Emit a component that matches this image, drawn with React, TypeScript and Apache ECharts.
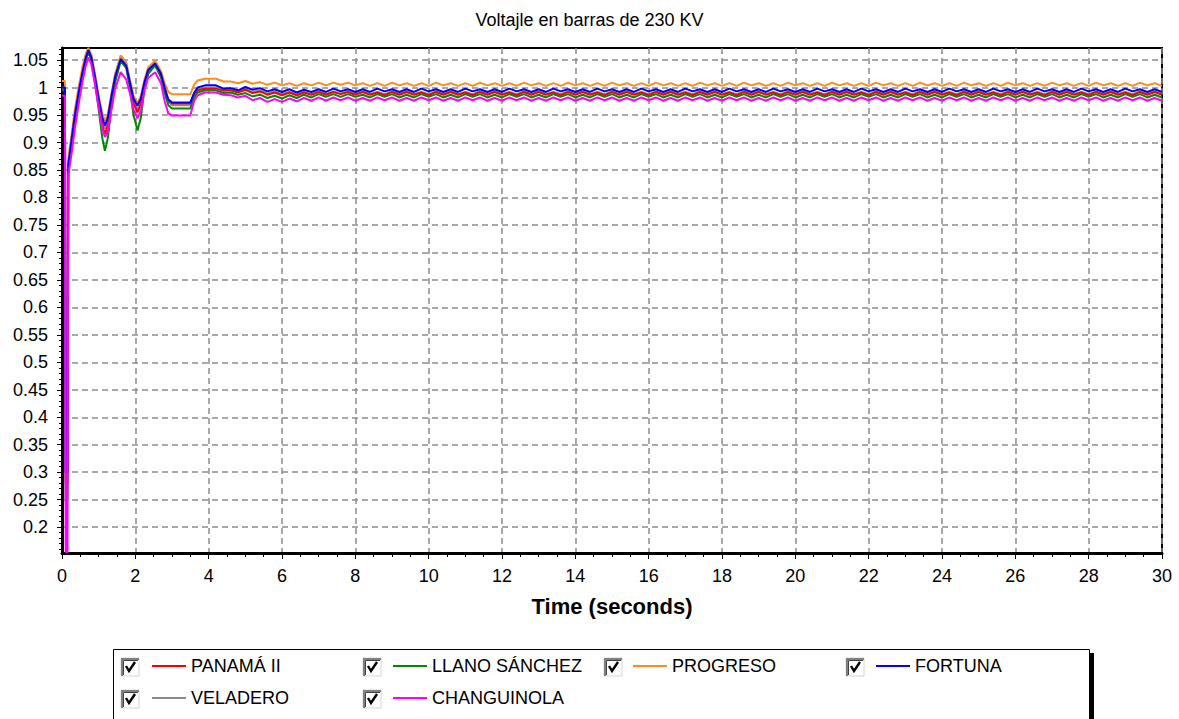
import { useEffect, useRef } from 'react';
import * as echarts from 'echarts';

const TITLE = 'Voltajle en barras de 230 KV';
const X_NAME = 'Time (seconds)';
const SERIES_NAMES = ['PANAMÁ II', 'LLANO SÁNCHEZ', 'PROGRESO', 'FORTUNA', 'VELADERO', 'CHANGUINOLA'];
const SERIES_COLORS = ['#ff0000', '#008a00', '#ff8c1a', '#0000ff', '#8c8c8c', '#ff00ff'];
const Y_TICKS = [0.2, 0.25, 0.3, 0.35, 0.4, 0.45, 0.5, 0.55, 0.6, 0.65, 0.7, 0.75, 0.8, 0.85, 0.9, 0.95, 1, 1.05];
const X_TICKS = [0, 2, 4, 6, 8, 10, 12, 14, 16, 18, 20, 22, 24, 26, 28, 30];
const X_MIN = 0;
const X_MAX = 30;
const Y_MIN = 0.153;
const Y_MAX = 1.072;

const TIME = [
  0, 0.08, 0.1, 0.15, 0.17, 0.25, 0.35, 0.45, 0.55, 0.65, 0.72, 0.8, 0.9, 1.0, 1.1, 1.17, 1.25, 1.35, 1.45,
  1.6, 1.75, 1.85, 1.95, 2.06, 2.15, 2.25, 2.35, 2.54, 2.7, 2.8, 2.9, 3.0, 3.5, 3.6, 3.7, 3.9, 4.2, 4.4,
  4.6, 4.8, 5, 5.2, 5.4, 5.6, 5.8, 6, 6.2, 6.4, 6.6, 6.8, 7, 7.2, 7.4, 7.6,
  7.8, 8, 8.2, 8.4, 8.6, 8.8, 9, 9.2, 9.4, 9.6, 9.8, 10, 10.2, 10.4, 10.6, 10.8,
  11, 11.2, 11.4, 11.6, 11.8, 12, 12.2, 12.4, 12.6, 12.8, 13, 13.2, 13.4, 13.6, 13.8, 14,
  14.2, 14.4, 14.6, 14.8, 15, 15.2, 15.4, 15.6, 15.8, 16, 16.2, 16.4, 16.6, 16.8, 17, 17.2,
  17.4, 17.6, 17.8, 18, 18.2, 18.4, 18.6, 18.8, 19, 19.2, 19.4, 19.6, 19.8, 20, 20.2, 20.4,
  20.6, 20.8, 21, 21.2, 21.4, 21.6, 21.8, 22, 22.2, 22.4, 22.6, 22.8, 23, 23.2, 23.4, 23.6,
  23.8, 24, 24.2, 24.4, 24.6, 24.8, 25, 25.2, 25.4, 25.6, 25.8, 26, 26.2, 26.4, 26.6, 26.8,
  27, 27.2, 27.4, 27.6, 27.8, 28, 28.2, 28.4, 28.6, 28.8, 29, 29.2, 29.4, 29.6, 29.8, 30,
];

const PANAMA = [
  0.998, 0.998, 0.28, 0.28, 0.855, 0.895, 0.945, 0.985, 1.022, 1.053, 1.066, 1.053, 1.015, 0.972, 0.932, 0.915, 0.932, 0.978, 1.016,
  1.05, 1.04, 1.006, 0.972, 0.955, 0.97, 1.004, 1.028, 1.042, 1.022, 0.996, 0.976, 0.971, 0.971, 0.986, 0.995, 0.998, 0.998, 0.994,
  0.995, 0.991, 0.996, 0.99, 0.993, 0.987, 0.991, 0.986, 0.991, 0.986, 0.991, 0.987, 0.992, 0.987, 0.992, 0.988,
  0.992, 0.987, 0.992, 0.987, 0.991, 0.986, 0.992, 0.987, 0.992, 0.987, 0.991, 0.986, 0.992, 0.987, 0.992, 0.987,
  0.991, 0.986, 0.992, 0.987, 0.992, 0.987, 0.991, 0.986, 0.992, 0.987, 0.992, 0.987, 0.991, 0.986, 0.992, 0.987,
  0.992, 0.987, 0.991, 0.986, 0.992, 0.987, 0.992, 0.987, 0.991, 0.986, 0.992, 0.987, 0.992, 0.987, 0.991, 0.986,
  0.992, 0.987, 0.992, 0.987, 0.991, 0.986, 0.992, 0.987, 0.992, 0.987, 0.991, 0.986, 0.992, 0.987, 0.992, 0.987,
  0.991, 0.986, 0.992, 0.987, 0.992, 0.987, 0.991, 0.986, 0.992, 0.987, 0.992, 0.987, 0.991, 0.986, 0.992, 0.987,
  0.992, 0.987, 0.991, 0.986, 0.992, 0.987, 0.992, 0.987, 0.991, 0.986, 0.992, 0.987, 0.992, 0.987, 0.991, 0.986,
  0.992, 0.987, 0.992, 0.987, 0.991, 0.986, 0.992, 0.987, 0.992, 0.987, 0.991, 0.986, 0.992, 0.987, 0.992, 0.987,
];

const LLANO_SANCHEZ = [
  0.995, 0.995, 0.25, 0.25, 0.845, 0.885, 0.935, 0.978, 1.018, 1.05, 1.065, 1.05, 1.01, 0.96, 0.908, 0.885, 0.908, 0.965, 1.01,
  1.048, 1.036, 1.0, 0.95, 0.922, 0.945, 0.998, 1.025, 1.04, 1.018, 0.99, 0.968, 0.962, 0.962, 0.982, 0.991, 0.995, 0.995, 0.99,
  0.991, 0.987, 0.99, 0.984, 0.987, 0.981, 0.985, 0.98, 0.986, 0.981, 0.987, 0.982, 0.988, 0.983, 0.988, 0.983,
  0.988, 0.983, 0.987, 0.982, 0.988, 0.983, 0.988, 0.982, 0.987, 0.982, 0.988, 0.983, 0.988, 0.982, 0.987, 0.982,
  0.988, 0.983, 0.988, 0.982, 0.987, 0.982, 0.988, 0.983, 0.988, 0.982, 0.987, 0.982, 0.988, 0.983, 0.988, 0.982,
  0.987, 0.982, 0.988, 0.983, 0.988, 0.982, 0.987, 0.982, 0.988, 0.983, 0.988, 0.982, 0.987, 0.982, 0.988, 0.983,
  0.988, 0.982, 0.987, 0.982, 0.988, 0.983, 0.988, 0.982, 0.987, 0.982, 0.988, 0.983, 0.988, 0.982, 0.987, 0.982,
  0.988, 0.983, 0.988, 0.982, 0.987, 0.982, 0.988, 0.983, 0.988, 0.982, 0.987, 0.982, 0.988, 0.983, 0.988, 0.982,
  0.987, 0.982, 0.988, 0.983, 0.988, 0.982, 0.987, 0.982, 0.988, 0.983, 0.988, 0.982, 0.987, 0.982, 0.988, 0.983,
  0.988, 0.982, 0.987, 0.982, 0.988, 0.983, 0.988, 0.982, 0.987, 0.982, 0.988, 0.983, 0.988, 0.982, 0.987, 0.982,
];

const PROGRESO = [
  1.012, 1.012, 0.35, 0.35, 0.87, 0.91, 0.96, 1.0, 1.035, 1.062, 1.072, 1.06, 1.025, 0.985, 0.952, 0.94, 0.952, 0.99, 1.025,
  1.058, 1.046, 1.015, 0.985, 0.971, 0.985, 1.015, 1.037, 1.049, 1.03, 1.008, 0.992, 0.988, 0.988, 1.005, 1.013, 1.016, 1.016, 1.011,
  1.011, 1.008, 1.012, 1.007, 1.01, 1.005, 1.009, 1.004, 1.008, 1.003, 1.008, 1.004, 1.009, 1.004, 1.009, 1.005,
  1.009, 1.004, 1.008, 1.003, 1.008, 1.003, 1.009, 1.004, 1.008, 1.003, 1.008, 1.003, 1.009, 1.004, 1.008, 1.003,
  1.008, 1.003, 1.009, 1.004, 1.008, 1.003, 1.008, 1.003, 1.009, 1.004, 1.008, 1.003, 1.008, 1.003, 1.009, 1.004,
  1.008, 1.003, 1.008, 1.003, 1.009, 1.004, 1.008, 1.003, 1.008, 1.003, 1.009, 1.004, 1.008, 1.003, 1.008, 1.003,
  1.009, 1.004, 1.008, 1.003, 1.008, 1.003, 1.009, 1.004, 1.008, 1.003, 1.008, 1.003, 1.009, 1.004, 1.008, 1.003,
  1.008, 1.003, 1.009, 1.004, 1.008, 1.003, 1.008, 1.003, 1.009, 1.004, 1.008, 1.003, 1.008, 1.003, 1.009, 1.004,
  1.008, 1.003, 1.008, 1.003, 1.009, 1.004, 1.008, 1.003, 1.008, 1.003, 1.009, 1.004, 1.008, 1.003, 1.008, 1.003,
  1.009, 1.004, 1.008, 1.003, 1.008, 1.003, 1.009, 1.004, 1.008, 1.003, 1.008, 1.003, 1.009, 1.004, 1.008, 1.003,
];

const FORTUNA = [
  1.0, 1.0, 0.3, 0.3, 0.86, 0.9, 0.95, 0.99, 1.025, 1.055, 1.068, 1.055, 1.02, 0.98, 0.945, 0.931, 0.945, 0.985, 1.02,
  1.052, 1.04, 1.01, 0.98, 0.967, 0.98, 1.01, 1.032, 1.044, 1.025, 1.0, 0.978, 0.973, 0.973, 0.99, 1.0, 1.004, 1.004, 0.998,
  0.999, 0.995, 1.001, 0.996, 0.999, 0.993, 0.997, 0.992, 0.997, 0.991, 0.996, 0.992, 0.997, 0.992, 0.998, 0.993,
  0.997, 0.992, 0.997, 0.992, 0.998, 0.993, 0.997, 0.992, 0.997, 0.992, 0.998, 0.993, 0.997, 0.992, 0.997, 0.992,
  0.998, 0.993, 0.997, 0.992, 0.997, 0.992, 0.998, 0.993, 0.997, 0.992, 0.997, 0.992, 0.998, 0.993, 0.997, 0.992,
  0.997, 0.992, 0.998, 0.993, 0.997, 0.992, 0.997, 0.992, 0.998, 0.993, 0.997, 0.992, 0.997, 0.992, 0.998, 0.993,
  0.997, 0.992, 0.997, 0.992, 0.998, 0.993, 0.997, 0.992, 0.997, 0.992, 0.998, 0.993, 0.997, 0.992, 0.997, 0.992,
  0.998, 0.993, 0.997, 0.992, 0.997, 0.992, 0.998, 0.993, 0.997, 0.992, 0.997, 0.992, 0.998, 0.993, 0.997, 0.992,
  0.997, 0.992, 0.998, 0.993, 0.997, 0.992, 0.997, 0.992, 0.998, 0.993, 0.997, 0.992, 0.997, 0.992, 0.998, 0.993,
  0.997, 0.992, 0.997, 0.992, 0.998, 0.993, 0.997, 0.992, 0.997, 0.992, 0.998, 0.993, 0.997, 0.992, 0.997, 0.992,
];

const VELADERO = [
  1.0, 1.0, 0.3, 0.3, 0.86, 0.9, 0.95, 0.99, 1.027, 1.058, 1.07, 1.058, 1.02, 0.978, 0.94, 0.925, 0.94, 0.983, 1.022,
  1.058, 1.045, 1.01, 0.976, 0.96, 0.975, 1.008, 1.032, 1.046, 1.025, 0.998, 0.974, 0.968, 0.968, 0.988, 0.997, 1.0, 1.0, 0.996,
  0.996, 0.992, 0.997, 0.991, 0.995, 0.989, 0.993, 0.988, 0.992, 0.987, 0.992, 0.988, 0.993, 0.988, 0.993, 0.989,
  0.993, 0.988, 0.993, 0.988, 0.992, 0.988, 0.993, 0.988, 0.993, 0.988, 0.992, 0.988, 0.993, 0.988, 0.993, 0.988,
  0.992, 0.988, 0.993, 0.988, 0.993, 0.988, 0.992, 0.988, 0.993, 0.988, 0.993, 0.988, 0.992, 0.988, 0.993, 0.988,
  0.993, 0.988, 0.992, 0.988, 0.993, 0.988, 0.993, 0.988, 0.992, 0.988, 0.993, 0.988, 0.993, 0.988, 0.992, 0.988,
  0.993, 0.988, 0.993, 0.988, 0.992, 0.988, 0.993, 0.988, 0.993, 0.988, 0.992, 0.988, 0.993, 0.988, 0.993, 0.988,
  0.992, 0.988, 0.993, 0.988, 0.993, 0.988, 0.992, 0.988, 0.993, 0.988, 0.993, 0.988, 0.992, 0.988, 0.993, 0.988,
  0.993, 0.988, 0.992, 0.988, 0.993, 0.988, 0.993, 0.988, 0.992, 0.988, 0.993, 0.988, 0.993, 0.988, 0.992, 0.988,
  0.993, 0.988, 0.993, 0.988, 0.992, 0.988, 0.993, 0.988, 0.993, 0.988, 0.992, 0.988, 0.993, 0.988, 0.993, 0.988,
];

const CHANGUINOLA = [
  0.985, 0.985, 0.155, 0.155, 0.84, 0.875, 0.925, 0.968, 1.008, 1.04, 1.055, 1.042, 1.005, 0.965, 0.925, 0.91, 0.92, 0.96, 0.998,
  1.028, 1.015, 0.99, 0.96, 0.944, 0.958, 0.995, 1.018, 1.028, 1.008, 0.975, 0.953, 0.949, 0.949, 0.975, 0.986, 0.991, 0.991, 0.987,
  0.986, 0.982, 0.985, 0.977, 0.981, 0.974, 0.979, 0.974, 0.98, 0.975, 0.981, 0.976, 0.982, 0.976, 0.982, 0.977,
  0.982, 0.976, 0.981, 0.976, 0.982, 0.977, 0.982, 0.976, 0.981, 0.976, 0.982, 0.977, 0.982, 0.976, 0.981, 0.976,
  0.982, 0.977, 0.982, 0.976, 0.981, 0.976, 0.982, 0.977, 0.982, 0.976, 0.981, 0.976, 0.982, 0.977, 0.982, 0.976,
  0.981, 0.976, 0.982, 0.977, 0.982, 0.976, 0.981, 0.976, 0.982, 0.977, 0.982, 0.976, 0.981, 0.976, 0.982, 0.977,
  0.982, 0.976, 0.981, 0.976, 0.982, 0.977, 0.982, 0.976, 0.981, 0.976, 0.982, 0.977, 0.982, 0.976, 0.981, 0.976,
  0.982, 0.977, 0.982, 0.976, 0.981, 0.976, 0.982, 0.977, 0.982, 0.976, 0.981, 0.976, 0.982, 0.977, 0.982, 0.976,
  0.981, 0.976, 0.982, 0.977, 0.982, 0.976, 0.981, 0.976, 0.982, 0.977, 0.982, 0.976, 0.981, 0.976, 0.982, 0.977,
  0.982, 0.976, 0.981, 0.976, 0.982, 0.977, 0.982, 0.976, 0.981, 0.976, 0.982, 0.977, 0.982, 0.976, 0.981, 0.976,
];

const SERIES_VALUES = [PANAMA, LLANO_SANCHEZ, PROGRESO, FORTUNA, VELADERO, CHANGUINOLA];
// drawing order (index into the arrays above)
const DRAW_ORDER = [4, 0, 1, 2, 3, 5];

const FONT = '"Liberation Sans", Arial, sans-serif';

// legend layout: [line start x, row top y, checkbox x]
const LEGEND_POS = [
  [152, 657, 121],
  [393, 657, 363],
  [633, 657, 604],
  [876, 657, 846],
  [152, 689, 121],
  [393, 689, 363],
];

function checkbox(x: number, y: number): any[] {
  return [
    { type: 'rect', z: 20, shape: { x, y, width: 18, height: 18 }, style: { fill: '#ffffff', stroke: '#d8d4cc', lineWidth: 1 } },
    { type: 'polyline', z: 21, shape: { points: [[x + 1, y + 18], [x + 1, y + 1], [x + 18, y + 1]] }, style: { stroke: '#808080', lineWidth: 2, fill: 'none' } },
    { type: 'polyline', z: 21, shape: { points: [[x + 2.5, y + 17], [x + 2.5, y + 2.5], [x + 17, y + 2.5]] }, style: { stroke: '#404040', lineWidth: 1, fill: 'none' } },
    { type: 'polyline', z: 22, shape: { points: [[x + 5, y + 8], [x + 8, y + 13], [x + 14, y + 4]] }, style: { stroke: '#000000', lineWidth: 2.4, fill: 'none' } },
  ];
}

export default function App() {
  const ref = useRef<HTMLDivElement>(null);
  useEffect(() => {
    document.body.style.margin = '0';
    if (!ref.current) return;
    const chart = echarts.init(ref.current, undefined, { renderer: 'svg' });
    const minorY: number[] = [];
    for (let v = 16; v <= 107; v++) minorY.push(v / 100);
    const minorX: number[] = [];
    for (let v = 0; v <= 60; v++) minorX.push(v / 2);

    const series = DRAW_ORDER.map((i) => ({
      name: SERIES_NAMES[i],
      type: 'line',
      data: TIME.map((t, k) => [t, SERIES_VALUES[i][k]]),
      showSymbol: false,
      symbol: 'none',
      color: SERIES_COLORS[i],
      lineStyle: { width: 2, color: SERIES_COLORS[i] },
      clip: true,
      z: 3,
    }));

    const legends = SERIES_NAMES.map((name, i) => ({
      data: [name],
      left: LEGEND_POS[i][0],
      top: LEGEND_POS[i][1],
      padding: 0,
      icon: 'rect',
      itemWidth: 34,
      itemHeight: 2,
      selectedMode: false,
      z: 30,
      textStyle: { fontSize: 18, color: '#000', fontFamily: FONT },
    }));

    const graphics: any[] = [
      { type: 'rect', z: 10, shape: { x: 1089, y: 653, width: 5, height: 70 }, style: { fill: '#000' } },
      { type: 'rect', z: 11, shape: { x: 113.5, y: 649.5, width: 976, height: 80 }, style: { fill: '#fff', stroke: '#000', lineWidth: 1 } },
    ];
    LEGEND_POS.forEach((p) => graphics.push(...checkbox(p[2], p[1] + 1)));

    const gridLine = { show: true, lineStyle: { color: '#8c8c8c', width: 1.5, type: [6, 4] } };

    chart.setOption({
      animation: false,
      backgroundColor: '#ffffff',
      title: {
        text: TITLE,
        left: 'center',
        top: 6,
        textStyle: { fontSize: 18, fontWeight: 'normal', color: '#000', fontFamily: FONT },
      },
      grid: {
        left: 62,
        right: 17,
        top: 48,
        bottom: 166,
        show: true,
        borderColor: '#000',
        borderWidth: 2,
        backgroundColor: '#fff',
      },
      legend: legends,
      graphic: { elements: graphics },
      xAxis: [
        {
          type: 'value',
          min: X_MIN,
          max: X_MAX,
          position: 'bottom',
          name: X_NAME,
          nameLocation: 'middle',
          nameGap: 42,
          nameTextStyle: { fontSize: 22, fontWeight: 'bold', color: '#000', fontFamily: FONT },
          axisLine: { lineStyle: { color: '#000', width: 3 } },
          axisTick: { customValues: X_TICKS, length: 6, lineStyle: { color: '#000', width: 1 } },
          axisLabel: { customValues: X_TICKS, fontSize: 18, color: '#000', margin: 14, fontFamily: FONT },
          splitLine: gridLine,
          minorTick: { show: false },
          minorSplitLine: { show: false },
        },
        {
          type: 'value',
          min: X_MIN,
          max: X_MAX,
          position: 'bottom',
          axisLine: { show: false },
          axisLabel: { show: false },
          splitLine: { show: false },
          minorSplitLine: { show: false },
          axisTick: { customValues: minorX, length: 4, lineStyle: { color: '#000', width: 1 } },
        },
      ],
      yAxis: [
        {
          type: 'value',
          min: Y_MIN,
          max: Y_MAX,
          position: 'left',
          axisLine: { show: true, lineStyle: { color: '#000', width: 3 } },
          axisTick: { show: true, customValues: Y_TICKS, length: 5, lineStyle: { color: '#000', width: 1 } },
          axisLabel: { customValues: Y_TICKS, fontSize: 18, color: '#000', margin: 14, fontFamily: FONT },
          splitLine: gridLine,
          minorSplitLine: { show: false },
        },
        {
          type: 'value',
          min: Y_MIN,
          max: Y_MAX,
          position: 'left',
          axisLine: { show: false },
          axisLabel: { show: false },
          splitLine: { show: false },
          minorSplitLine: { show: false },
          axisTick: { show: true, customValues: minorY, length: 3, lineStyle: { color: '#000', width: 1 } },
        },
      ],
      series,
    });
    return () => chart.dispose();
  }, []);
  return <div ref={ref} style={{ width: 1179, height: 719 }} />;
}
